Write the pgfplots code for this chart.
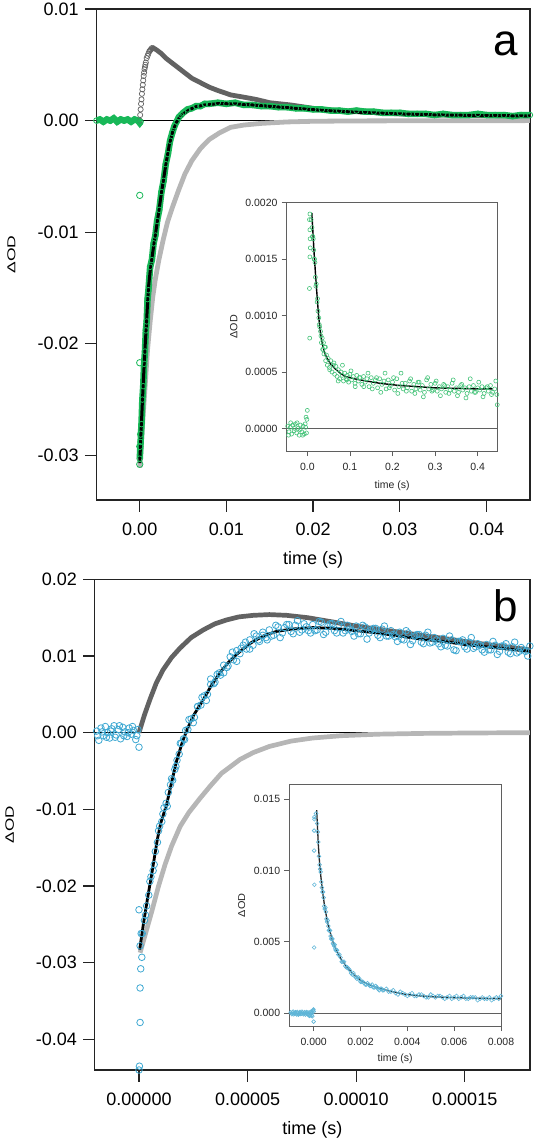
\documentclass[border=0pt]{standalone}
\usepackage{fontspec}
\setmainfont{Liberation Sans}
\usepackage{graphicx}
\usepackage{pgfplots}
\pgfplotsset{compat=1.18}
\definecolor{gA}{RGB}{24,184,88}
\definecolor{gAi}{RGB}{70,196,122}
\definecolor{bB}{RGB}{62,168,210}
\definecolor{bBi}{RGB}{95,182,216}
\definecolor{dg}{RGB}{98,98,98}
\definecolor{lg}{RGB}{182,182,182}
\definecolor{frm}{RGB}{35,35,35}
\definecolor{ifrm}{RGB}{95,95,95}
\pgfplotsset{
  mainax/.style={
    scale only axis, scaled x ticks=false, scaled y ticks=false,
    axis line style={line width=1.3bp, frm},
    tick align=outside, major tick length=11.5bp,
    tick style={line width=1.3bp, frm},
    xtick pos=left, ytick pos=left,
    ticklabel style={font=\fontsize{18bp}{20bp}\selectfont, inner sep=0pt},
    yticklabel style={xshift=-6bp},
    xticklabel style={yshift=-11bp},
    xlabel style={font=\fontsize{18bp}{20bp}\selectfont, at={([yshift=-64.5bp]axis description cs:0.5,0)}, anchor=base},
    ylabel style={at={([xshift=-85bp]axis description cs:0,0.5)}, anchor=center, inner sep=0pt},
  },
  inax/.style={
    scale only axis, scaled x ticks=false, scaled y ticks=false,
    axis background/.style={fill=white},
    axis line style={line width=0.8bp, ifrm},
    tick align=outside, major tick length=5bp,
    tick style={line width=0.8bp, ifrm},
    xtick pos=left, ytick pos=left,
    ticklabel style={font=\fontsize{10.5bp}{12bp}\selectfont, inner sep=0pt, text=black!85},
    yticklabel style={xshift=-4bp},
    xticklabel style={yshift=-7bp},
    xlabel style={font=\fontsize{10.5bp}{12bp}\selectfont, text=black!85, anchor=base},
    ylabel style={text=black!85, anchor=center, inner sep=0pt},
  },
}
\begin{document}
\begin{tikzpicture}
\path[use as bounding box] (0,0) rectangle (536bp,-1141bp);
% ================= Panel a =================
\begin{axis}[mainax, at={(96.4bp,-9bp)}, anchor=north west,
  width=433.5bp, height=491bp,
  xmin=-0.005, xmax=0.045, ymin=-0.034, ymax=0.01,
  xtick={0,0.01,0.02,0.03,0.04}, xticklabels={0.00,0.01,0.02,0.03,0.04},
  ytick={-0.03,-0.02,-0.01,0,0.01}, yticklabels={-0.03,-0.02,-0.01,0.00,0.01},
  xlabel={time (s)}, ylabel={\resizebox{38bp}{8bp}{ΔOD}}]
\addplot[black, line width=1bp] coordinates {(-0.005,0) (0.045,0)};
% dark grey component: rise (circles)
\addplot[dg, only marks, mark=o, mark size=2.6bp, mark options={line width=0.7bp}] coordinates {
(0.00000,0.0000) (0.00005,0.0005) (0.00010,0.0010) (0.00015,0.0015) (0.00020,0.0019)
(0.00025,0.0024) (0.00030,0.0028) (0.00035,0.0032) (0.00040,0.0036) (0.00045,0.0040)
(0.00050,0.0043) (0.00055,0.0046) (0.00060,0.0048) (0.00065,0.0050) (0.00070,0.0052)
(0.00080,0.0056) (0.00090,0.0058) (0.00100,0.0060) (0.00110,0.0062) (0.00120,0.0063)
(0.00130,0.0064) (0.00140,0.0065)};
% dark grey component: decay
\addplot[dg, line width=4.8bp] coordinates {
(0.0012,0.0063) (0.0014,0.0064) (0.0016,0.0065) (0.0018,0.0064) (0.0020,0.0063)
(0.0025,0.0060) (0.0030,0.0056) (0.0035,0.0053) (0.0040,0.0050) (0.0045,0.0047)
(0.0050,0.0044) (0.0055,0.0041) (0.0060,0.0038) (0.0070,0.0034) (0.0080,0.0030)
(0.0090,0.0027) (0.0105,0.0023) (0.0120,0.0021) (0.0134,0.0019) (0.0150,0.0016)
(0.0174,0.0014) (0.0200,0.0011) (0.0213,0.00096) (0.0250,0.0008) (0.0300,0.0006)
(0.0350,0.0005) (0.0400,0.00045) (0.0450,0.0004)};
% light grey component
\addplot[lg, line width=4.8bp] coordinates {
(0.0000,-0.0311) (0.0003,-0.0275) (0.0006,-0.0240) (0.0009,-0.0205) (0.0012,-0.0180)
(0.0015,-0.0158) (0.0018,-0.0142) (0.0022,-0.0125) (0.0027,-0.0107) (0.0032,-0.0091)
(0.0038,-0.0077) (0.0045,-0.0062) (0.0052,-0.0048) (0.0060,-0.0036) (0.0070,-0.0025)
(0.0080,-0.0017) (0.0092,-0.0011) (0.0105,-0.0006) (0.0120,-0.0004) (0.0140,-0.00025)
(0.0170,-0.00012) (0.0200,-0.00006) (0.0250,-0.00003) (0.0300,-0.00002) (0.0450,0.0000)};
% green data: baseline
\addplot[gA, line width=6.5bp, mark=o, mark size=2.8bp, mark options={line width=0.8bp}] coordinates {
(-0.0050,0.0000) (-0.0046,0.0001) (-0.0042,-0.0001) (-0.0038,0.0001) (-0.0034,0.0000)
(-0.0030,0.0002) (-0.0026,-0.0001) (-0.0022,0.0001) (-0.0018,0.0000) (-0.0014,0.0001)
(-0.0010,-0.0001) (-0.0006,0.0001) (-0.0002,0.0000) (0.0000,-0.0002) (0.0001,-0.0001)};
% green data: after the flash
\addplot[gA, line width=6.5bp, mark=o, mark size=2.8bp, mark options={line width=0.8bp}] coordinates {
(0.00000,-0.0303) (0.00010,-0.0288) (0.00020,-0.0272) (0.00030,-0.0250) (0.00040,-0.0238)
(0.00050,-0.0218) (0.00060,-0.0207) (0.00070,-0.0188) (0.00080,-0.0180) (0.00090,-0.0160)
(0.00100,-0.0152) (0.00120,-0.0131) (0.00140,-0.0125) (0.00160,-0.0110) (0.00180,-0.0103)
(0.00200,-0.0090) (0.00225,-0.0080) (0.00250,-0.0064) (0.00275,-0.0054) (0.00300,-0.0039)
(0.00325,-0.0030) (0.00350,-0.0018) (0.00375,-0.0011) (0.00400,-0.0005) (0.00425,-0.0001)
(0.00450,0.0003) (0.00475,0.0005) (0.00500,0.0007) (0.0055,0.0010) (0.0060,0.0011)
(0.0065,0.0013) (0.0070,0.0013) (0.0075,0.0015) (0.0080,0.0015) (0.0090,0.0016)
(0.0100,0.0015) (0.0110,0.0016) (0.0120,0.0014) (0.0130,0.0014) (0.0140,0.0013)
(0.0150,0.0013) (0.0160,0.0012) (0.0170,0.0012) (0.0180,0.0011) (0.0190,0.0011)
(0.0200,0.0010) (0.0210,0.0010) (0.0220,0.0009) (0.0230,0.0009) (0.0240,0.0008)
(0.0250,0.0009) (0.0260,0.0008) (0.0270,0.0008) (0.0280,0.0007) (0.0290,0.0007)
(0.0300,0.0007) (0.0310,0.0006) (0.0320,0.0006) (0.0330,0.0006) (0.0340,0.0005)
(0.0350,0.0006) (0.0360,0.0005) (0.0370,0.0005) (0.0380,0.0005) (0.0390,0.0006)
(0.0400,0.0005) (0.0410,0.0005) (0.0420,0.0005) (0.0430,0.0004) (0.0440,0.0005)
(0.0450,0.0005)};
% green outliers
\addplot[gA, only marks, mark=o, mark size=3.2bp, mark options={line width=0.8bp}] coordinates {
(0.0000,-0.0067) (0.0000,-0.0217) (0.0000,-0.0292) (0.0001,-0.0281) (0.0000,-0.0308)};
% black fit
\addplot[black, line width=3bp] coordinates {
(0.0000,-0.0307) (0.0002,-0.0270) (0.0004,-0.0236) (0.0006,-0.0205) (0.0008,-0.0178)
(0.0010,-0.0150) (0.0012,-0.0135) (0.0015,-0.0118) (0.0020,-0.0092) (0.0025,-0.0065)
(0.0030,-0.0040) (0.0034,-0.0022) (0.0038,-0.0010) (0.0042,-0.0002) (0.0046,0.0003)
(0.0050,0.0006) (0.0058,0.0010) (0.0065,0.00125) (0.0075,0.0014) (0.0090,0.00152)
(0.0110,0.0015) (0.0130,0.0014) (0.0150,0.00128) (0.0180,0.0011) (0.0210,0.00092)
(0.0250,0.00075) (0.0300,0.0006) (0.0350,0.0005) (0.0400,0.00045) (0.0450,0.00042)};
\node[anchor=base east, inner sep=0pt, font=\fontsize{44bp}{44bp}\selectfont] at (rel axis cs:0.9725,0.906) {a};
\end{axis}
% ---------------- inset a ----------------
\begin{axis}[inax, at={(286.7bp,-202.7bp)}, anchor=north west,
  width=211bp, height=248.3bp,
  xmin=-0.0484, xmax=0.447, ymin=-0.0002, ymax=0.002,
  xtick={0,0.1,0.2,0.3,0.4}, xticklabels={0.0,0.1,0.2,0.3,0.4},
  ytick={0,0.0005,0.001,0.0015,0.002}, yticklabels={0.0000,0.0005,0.0010,0.0015,0.0020},
  xlabel={time (s)}, ylabel={\resizebox{23.3bp}{7.3bp}{ΔOD}},
  xlabel style={at={([yshift=-37bp]axis description cs:0.5,0)}},
  ylabel style={at={([xshift=-53bp]axis description cs:0,0.5)}}]
\addplot[ifrm, line width=0.8bp] coordinates {(-0.0484,0) (0.447,0)};
\addplot[gAi, only marks, mark=o, mark size=2bp, mark options={line width=0.6bp}] coordinates {
(-0.046,0.00002) (-0.043,-0.00003) (-0.040,0.00001) (-0.037,-0.00005) (-0.034,0.00003)
(-0.031,-0.00002) (-0.028,0.00004) (-0.025,-0.00004) (-0.022,0.00000) (-0.019,-0.00006)
(-0.016,0.00003) (-0.013,-0.00003) (-0.010,0.00002) (-0.007,-0.00005) (-0.004,0.00001)
(-0.002,-0.00004) (-0.044,-0.00006) (-0.039,0.00005) (-0.030,0.00000) (-0.024,0.00005)
(-0.017,-0.00001) (-0.011,-0.00006) (-0.005,0.00004)
(0.000,0.00016) (-0.003,0.00010) (-0.001,0.00008) (0.0056,0.00080) (0.006,0.00190)
(0.005,0.00185) (0.006,0.00176) (0.0065,0.00168) (0.006,0.00152) (0.005,0.00124) (0.007,0.00160)
(0.009,0.00185) (0.011,0.00178) (0.013,0.00170) (0.015,0.00158) (0.017,0.00150)
(0.019,0.00134) (0.021,0.00128) (0.023,0.00112) (0.025,0.00104) (0.027,0.00098)
(0.029,0.00090) (0.031,0.00086) (0.033,0.00076) (0.035,0.00080) (0.037,0.00070)
(0.039,0.00066) (0.041,0.00072) (0.043,0.00060) (0.045,0.00065) (0.047,0.00056)
(0.049,0.00062) (0.052,0.00054) (0.055,0.00060) (0.058,0.00050) (0.061,0.00056)
(0.064,0.00048) (0.067,0.00055) (0.070,0.00046) (0.073,0.00052) (0.076,0.00044)
(0.079,0.00050) (0.082,0.00047) (0.085,0.00042) (0.088,0.00049) (0.091,0.00044)
(0.094,0.00047) (0.097,0.00041) (0.100,0.00048) (0.104,0.00043) (0.108,0.00046)
(0.112,0.00040) (0.116,0.00047) (0.120,0.00042) (0.124,0.00045) (0.128,0.00039)
(0.132,0.00046) (0.136,0.00041) (0.140,0.00044) (0.145,0.00037) (0.150,0.00045)
(0.155,0.00040) (0.160,0.00043) (0.165,0.00036) (0.170,0.00044) (0.175,0.00039)
(0.180,0.00042) (0.185,0.00035) (0.190,0.00043) (0.195,0.00038) (0.200,0.00041)
(0.205,0.00034) (0.210,0.00044) (0.215,0.00037) (0.220,0.00049) (0.225,0.00035)
(0.230,0.00040) (0.235,0.00036) (0.240,0.00042) (0.245,0.00033) (0.250,0.00039)
(0.255,0.00035) (0.260,0.00041) (0.265,0.00034) (0.270,0.00038) (0.275,0.00032)
(0.280,0.00043) (0.285,0.00035) (0.290,0.00039) (0.295,0.00034) (0.300,0.00040)
(0.305,0.00033) (0.310,0.00037) (0.315,0.00035) (0.320,0.00039) (0.325,0.00032)
(0.330,0.00037) (0.335,0.00034) (0.340,0.00040) (0.345,0.00033) (0.350,0.00036)
(0.355,0.00032) (0.360,0.00038) (0.365,0.00034) (0.370,0.00036) (0.375,0.00031)
(0.380,0.00037) (0.385,0.00033) (0.390,0.00038) (0.395,0.00032) (0.400,0.00036)
(0.405,0.00034) (0.410,0.00037) (0.415,0.00031) (0.420,0.00036) (0.425,0.00033)
(0.430,0.00038) (0.435,0.00032) (0.440,0.00035) (0.445,0.00030) (0.446,0.00021)
(0.012,0.00170) (0.014,0.00168) (0.016,0.00150) (0.018,0.00147) (0.020,0.00126)
(0.024,0.00115) (0.028,0.00092) (0.032,0.00082) (0.036,0.00070) (0.038,0.00076)
(0.0425,0.00072) (0.0525,0.00052) (0.0625,0.00058) (0.0725,0.00042) (0.0825,0.00056)
(0.0925,0.00043) (0.1025,0.00051) (0.1125,0.00037) (0.1225,0.00045) (0.1325,0.00037)
(0.1425,0.00049) (0.1525,0.00035) (0.1625,0.00045) (0.1725,0.00032) (0.1825,0.00049)
(0.1925,0.00036) (0.2025,0.00045) (0.2125,0.00031) (0.2225,0.00040) (0.2325,0.00033)
(0.2425,0.00044) (0.2525,0.00031) (0.2625,0.00041) (0.2725,0.00028) (0.2825,0.00045)
(0.2925,0.00033) (0.3025,0.00042) (0.3125,0.00029) (0.3225,0.00038) (0.3325,0.00031)
(0.3425,0.00043) (0.3525,0.00029) (0.3625,0.00039) (0.3725,0.00027) (0.3825,0.00044)
(0.3925,0.00032) (0.4025,0.00041) (0.4125,0.00028) (0.4225,0.00037) (0.4325,0.00030)
(0.4425,0.00042)};
\addplot[black, line width=1.4bp] coordinates {
(0.0105,0.00191) (0.013,0.00175) (0.016,0.00155) (0.019,0.00138) (0.022,0.00122)
(0.026,0.00102) (0.030,0.00087) (0.035,0.00075) (0.040,0.00068) (0.045,0.00063)
(0.055,0.00057) (0.065,0.00053) (0.077,0.00049) (0.090,0.00046) (0.110,0.00044)
(0.139,0.00042) (0.170,0.00040) (0.217,0.00038) (0.260,0.00037) (0.296,0.00036)
(0.350,0.000355) (0.400,0.00035) (0.435,0.00035)};
\end{axis}
% ================= Panel b =================
\begin{axis}[mainax, at={(94.7bp,-579.3bp)}, anchor=north west,
  width=435.2bp, height=490.7bp,
  xmin=-0.0000204, xmax=0.00018, ymin=-0.044, ymax=0.02,
  xtick={0,0.00005,0.0001,0.00015}, xticklabels={0.00000,0.00005,0.00010,0.00015},
  ytick={-0.04,-0.03,-0.02,-0.01,0,0.01,0.02}, yticklabels={-0.04,-0.03,-0.02,-0.01,0.00,0.01,0.02},
  xlabel={time (s)}, ylabel={\resizebox{37bp}{8.5bp}{ΔOD}}]
\addplot[black, line width=1bp] coordinates {(-0.0000204,0) (0.00018,0)};
\addplot[dg, line width=4.7bp] coordinates {
(0.0000000,0.0000) (0.0000025,0.0023) (0.0000050,0.0043) (0.0000080,0.0065) (0.0000111,0.0082)
(0.0000150,0.0098) (0.0000188,0.0110) (0.0000240,0.0124) (0.0000296,0.0134) (0.0000350,0.0142)
(0.0000403,0.0147) (0.0000460,0.0151) (0.0000526,0.0153) (0.0000600,0.0154) (0.0000680,0.0153)
(0.0000776,0.0150) (0.0000900,0.0144) (0.0001000,0.0139) (0.0001200,0.0131) (0.0001400,0.0123)
(0.0001600,0.0115) (0.0001800,0.0108)};
\addplot[lg, line width=4.7bp] coordinates {
(0.0000005,-0.0287) (0.0000030,-0.0262) (0.0000060,-0.0232) (0.0000090,-0.0200) (0.0000120,-0.0172)
(0.0000150,-0.0148) (0.0000190,-0.0122) (0.0000230,-0.0104) (0.0000280,-0.0086) (0.0000330,-0.0069)
(0.0000380,-0.0053) (0.0000465,-0.0035) (0.0000526,-0.0026) (0.0000600,-0.0018) (0.0000700,-0.0011)
(0.0000800,-0.0007) (0.0000930,-0.0004) (0.0001100,-0.0002) (0.0001300,-0.0001) (0.0001500,-0.00005)
(0.0001800,0.0000)};
\addplot[bB, only marks, mark=o, mark size=3.3bp, mark options={line width=0.8bp}] coordinates {
(-0.0000195,0.0002) (-0.0000185,-0.0010) (-0.0000175,0.0006) (-0.0000165,-0.0004) (-0.0000155,0.0008)
(-0.0000145,0.0000) (-0.0000135,-0.0007) (-0.0000125,0.0005) (-0.0000115,0.0009) (-0.0000105,-0.0003)
(-0.0000095,0.0004) (-0.0000085,-0.0008) (-0.0000075,0.0007) (-0.0000065,0.0001) (-0.0000055,-0.0005)
(-0.0000045,0.0006) (-0.0000035,-0.0002) (-0.0000025,0.0003) (-0.0000015,-0.0009) (-0.0000005,0.0004)
(-0.0000190,-0.0004) (-0.0000170,0.0001) (-0.0000150,-0.0006) (-0.0000130,0.0002) (-0.0000110,-0.0006)
(-0.0000090,0.0009) (-0.0000070,-0.0004) (-0.0000050,0.0000) (-0.0000030,0.0008) (-0.0000010,-0.0004)
(0.0000000,-0.0019)
(0.0000000,-0.0231) (0.0000013,-0.0293) (0.0000008,-0.0308) (0.0000005,-0.0333) (0.0000005,-0.0378)
(0.0000002,-0.0435) (0.0000000,-0.0440)
(0.0000005,-0.0278) (0.0000015,-0.0262) (0.0000025,-0.0245) (0.0000035,-0.0226) (0.0000045,-0.0212)
(0.0000055,-0.0188) (0.0000065,-0.0180) (0.0000075,-0.0155) (0.0000085,-0.0143) (0.0000095,-0.0122)
(0.0000105,-0.0116) (0.0000115,-0.0098) (0.0000125,-0.0092) (0.0000135,-0.0078) (0.0000145,-0.0068)
(0.0000155,-0.0062) (0.0000165,-0.0048) (0.0000175,-0.0036) (0.0000185,-0.0028) (0.0000195,-0.0014)
(0.0000205,-0.0008) (0.0000215,0.0003) (0.0000225,0.0004) (0.0000240,0.0018) (0.0000255,0.0020)
(0.0000270,0.0034) (0.0000285,0.0036) (0.0000300,0.0048) (0.0000315,0.0050) (0.0000330,0.0063)
(0.0000345,0.0064) (0.0000360,0.0076) (0.0000375,0.0075) (0.0000390,0.0088) (0.0000405,0.0085)
(0.0000420,0.0099) (0.0000435,0.0095) (0.0000450,0.0107) (0.0000465,0.0103) (0.0000480,0.0114)
(0.0000495,0.0109) (0.0000510,0.0121) (0.0000525,0.0114) (0.0000540,0.0126) (0.0000555,0.0119)
(0.0000570,0.0131) (0.0000585,0.0124) (0.0000600,0.0134) (0.0000620,0.0127) (0.0000640,0.0138)
(0.0000660,0.0130) (0.0000680,0.0141) (0.0000700,0.0132) (0.0000720,0.0140) (0.0000740,0.0131)
(0.0000760,0.0142) (0.0000780,0.0133) (0.0000800,0.0141) (0.0000820,0.0134) (0.0000840,0.0144)
(0.0000860,0.0131) (0.0000880,0.0142) (0.0000900,0.0133) (0.0000920,0.0141) (0.0000940,0.0130)
(0.0000960,0.0140) (0.0000980,0.0132) (0.0001000,0.0139) (0.0001020,0.0129) (0.0001040,0.0138)
(0.0001060,0.0130) (0.0001080,0.0136) (0.0001100,0.0127) (0.0001120,0.0135) (0.0001140,0.0126)
(0.0001160,0.0133) (0.0001180,0.0125) (0.0001200,0.0131) (0.0001220,0.0121) (0.0001240,0.0130)
(0.0001260,0.0120) (0.0001280,0.0128) (0.0001300,0.0118) (0.0001320,0.0127) (0.0001340,0.0117)
(0.0001360,0.0124) (0.0001380,0.0116) (0.0001400,0.0123) (0.0001420,0.0113) (0.0001440,0.0121)
(0.0001460,0.0107) (0.0001480,0.0119) (0.0001500,0.0112) (0.0001520,0.0118) (0.0001540,0.0110)
(0.0001560,0.0116) (0.0001580,0.0108) (0.0001600,0.0115) (0.0001620,0.0108) (0.0001640,0.0114)
(0.0001660,0.0106) (0.0001680,0.0113) (0.0001700,0.0105) (0.0001720,0.0112) (0.0001740,0.0104)
(0.0001760,0.0111) (0.0001780,0.0106) (0.0001800,0.0113)
(0.0000010,-0.0262) (0.0000030,-0.0238) (0.0000050,-0.0194) (0.0000070,-0.0172) (0.0000090,-0.0128)
(0.0000110,-0.0106) (0.0000130,-0.0096) (0.0000150,-0.0060) (0.0000170,-0.0044) (0.0000190,-0.0014)
(0.0000210,-0.0009) (0.0000230,0.0017) (0.0000250,0.0013) (0.0000270,0.0034) (0.0000290,0.0046)
(0.0000310,0.0042) (0.0000330,0.0070) (0.0000350,0.0066) (0.0000370,0.0078) (0.0000390,0.0078)
(0.0000410,0.0087) (0.0000430,0.0105) (0.0000450,0.0093) (0.0000470,0.0110) (0.0000490,0.0118)
(0.0000510,0.0109) (0.0000530,0.0129) (0.0000550,0.0121) (0.0000570,0.0127) (0.0000590,0.0121)
(0.0000610,0.0126) (0.0000630,0.0140) (0.0000650,0.0124) (0.0000670,0.0137) (0.0000690,0.0141)
(0.0000710,0.0129) (0.0000730,0.0146) (0.0000750,0.0134) (0.0000770,0.0138) (0.0000790,0.0130)
(0.0000810,0.0133) (0.0000830,0.0145) (0.0000850,0.0128) (0.0000870,0.0139) (0.0000890,0.0142)
(0.0000910,0.0130) (0.0000930,0.0145) (0.0000950,0.0133) (0.0000970,0.0135) (0.0000990,0.0126)
(0.0001010,0.0129) (0.0001030,0.0140) (0.0001050,0.0122) (0.0001070,0.0134) (0.0001090,0.0136)
(0.0001110,0.0124) (0.0001130,0.0139) (0.0001150,0.0126) (0.0001170,0.0128) (0.0001190,0.0119)
(0.0001210,0.0122) (0.0001230,0.0133) (0.0001250,0.0115) (0.0001270,0.0126) (0.0001290,0.0128)
(0.0001310,0.0116) (0.0001330,0.0131) (0.0001350,0.0118) (0.0001370,0.0121) (0.0001390,0.0112)
(0.0001410,0.0114) (0.0001430,0.0126) (0.0001450,0.0108) (0.0001470,0.0119) (0.0001490,0.0121)
(0.0001510,0.0109) (0.0001530,0.0124) (0.0001550,0.0112) (0.0001570,0.0114) (0.0001590,0.0105)
(0.0001610,0.0108) (0.0001630,0.0119) (0.0001650,0.0102) (0.0001670,0.0113) (0.0001690,0.0116)
(0.0001710,0.0103) (0.0001730,0.0118) (0.0001750,0.0106) (0.0001770,0.0108) (0.0001790,0.0100)};
\addplot[black, line width=2.8bp] coordinates {
(0.0000003,-0.0283) (0.0000020,-0.0250) (0.0000040,-0.0215) (0.0000060,-0.0182) (0.0000084,-0.0140)
(0.0000100,-0.0118) (0.0000127,-0.0094) (0.0000150,-0.0065) (0.0000173,-0.0037) (0.0000200,-0.0012)
(0.0000220,0.0003) (0.0000250,0.0022) (0.0000296,0.0043) (0.0000330,0.0060) (0.0000372,0.0078)
(0.0000410,0.0091) (0.0000449,0.0102) (0.0000500,0.0114) (0.0000526,0.0119) (0.0000580,0.0127)
(0.0000633,0.0132) (0.0000700,0.0135) (0.0000800,0.0137) (0.0000900,0.0136) (0.0001000,0.0133)
(0.0001100,0.0130) (0.0001200,0.0126) (0.0001300,0.0122) (0.0001400,0.0119) (0.0001500,0.0115)
(0.0001600,0.0112) (0.0001700,0.0109) (0.0001800,0.0106)};
\node[anchor=base east, inner sep=0pt, font=\fontsize{44bp}{44bp}\selectfont] at (rel axis cs:0.973,0.9136) {b};
\end{axis}
% ---------------- inset b ----------------
\begin{axis}[inax, at={(289.3bp,-784.3bp)}, anchor=north west,
  width=211.7bp, height=241.7bp,
  xmin=-0.00104, xmax=0.008, ymin=-0.00091, ymax=0.01605,
  xtick={0,0.002,0.004,0.006,0.008}, xticklabels={0.000,0.002,0.004,0.006,0.008},
  ytick={0,0.005,0.01,0.015}, yticklabels={0.000,0.005,0.010,0.015},
  xlabel={time (s)}, ylabel={\resizebox{23.7bp}{7bp}{ΔOD}},
  xlabel style={at={([yshift=-35bp]axis description cs:0.5,0)}},
  ylabel style={at={([xshift=-47.6bp]axis description cs:0,0.5)}}]
\addplot[ifrm, line width=0.8bp] coordinates {(-0.00104,0) (0.008,0)};
\addplot[bBi, only marks, mark=o, mark size=1.9bp, mark options={line width=0.6bp}] coordinates {
(-0.00098,0.00005) (-0.00093,-0.00008) (-0.00088,0.00010) (-0.00083,-0.00003) (-0.00078,0.00006)
(-0.00073,-0.00010) (-0.00068,0.00002) (-0.00063,-0.00006) (-0.00058,0.00008) (-0.00053,-0.00004)
(-0.00048,0.00003) (-0.00043,-0.00009) (-0.00038,0.00006) (-0.00033,-0.00002) (-0.00028,0.00004)
(-0.00023,-0.00012) (-0.00018,-0.00020) (-0.00013,0.00008) (-0.00008,-0.00015) (-0.00004,0.00015)
(-0.00002,0.00020) (0.00000,0.00010)
(-0.00095,-0.00002) (-0.00090,0.00004) (-0.00085,-0.00009) (-0.00080,0.00001) (-0.00075,-0.00005)
(-0.00070,0.00008) (-0.00065,-0.00011) (-0.00060,0.00000) (-0.00055,-0.00007) (-0.00050,0.00009)
(-0.00045,-0.00003) (-0.00040,0.00002) (-0.00035,-0.00010) (-0.00030,0.00007) (-0.00025,-0.00006)
(-0.00020,0.00004) (-0.00015,-0.00016) (-0.00010,0.00002) (-0.00006,-0.00022) (-0.00001,0.00025)
(0.00003,0.01375) (0.00003,0.0136) (0.00002,0.0128) (0.00002,0.0114) (0.00003,0.0090)
(0.00002,0.0046) (0.00000,-0.0006)
(0.00010,0.0140) (0.00015,0.0133) (0.00020,0.0120) (0.00025,0.0104) (0.00030,0.0099)
(0.00035,0.0088) (0.00040,0.0085) (0.00045,0.0075) (0.00050,0.0074) (0.00055,0.0066)
(0.00060,0.0065) (0.00065,0.0058) (0.00070,0.0058) (0.00075,0.0052) (0.00080,0.0052)
(0.00085,0.0048) (0.00090,0.0048) (0.00095,0.0044) (0.00100,0.0044) (0.00110,0.0041)
(0.00120,0.0036) (0.00130,0.0036) (0.00140,0.0032) (0.00150,0.0031) (0.00160,0.0028)
(0.00170,0.0028) (0.00180,0.0025) (0.00190,0.0025) (0.00200,0.0022) (0.00210,0.0022)
(0.00220,0.0020) (0.00230,0.0021) (0.00240,0.0019) (0.00250,0.0020) (0.00260,0.0018)
(0.00270,0.0018) (0.00280,0.0016) (0.00290,0.0017) (0.00300,0.0016) (0.00320,0.0015)
(0.00340,0.0016) (0.00360,0.0013) (0.00380,0.0014) (0.00400,0.0012) (0.00420,0.0014)
(0.00440,0.0012) (0.00460,0.0013) (0.00480,0.0011) (0.00500,0.0013) (0.00520,0.0011)
(0.00540,0.0012) (0.00560,0.0010) (0.00580,0.0012) (0.00600,0.0011) (0.00620,0.0010)
(0.00640,0.0012) (0.00660,0.0010) (0.00680,0.0011) (0.00700,0.0009) (0.00720,0.0011)
(0.00740,0.0010) (0.00760,0.0009) (0.00780,0.0011) (0.00800,0.0012)
(0.000175,0.0127) (0.000225,0.0110) (0.000275,0.0101) (0.000325,0.0092) (0.000375,0.0085)
(0.000425,0.0081) (0.000475,0.0073) (0.000525,0.0071) (0.000575,0.0064) (0.000625,0.0061)
(0.000675,0.0058) (0.000725,0.0054) (0.000775,0.0052) (0.000825,0.0049) (0.000875,0.0047)
(0.000925,0.0045) (0.000975,0.0044) (0.00105,0.0041) (0.00115,0.0039) (0.00125,0.0036)
(0.00135,0.0033) (0.00145,0.0032) (0.00155,0.0030) (0.00165,0.0027) (0.00175,0.0026)
(0.00185,0.0024) (0.00195,0.0024) (0.00205,0.0022) (0.00215,0.0021) (0.00225,0.0020)
(0.00235,0.0020) (0.00245,0.0019) (0.00255,0.0018) (0.00265,0.0019) (0.00275,0.0017)
(0.00285,0.0017) (0.00295,0.0016) (0.0031,0.0017) (0.0033,0.0015) (0.0035,0.0014)
(0.0037,0.0015) (0.0039,0.0013) (0.0041,0.0013) (0.0043,0.0012) (0.0045,0.0013)
(0.0047,0.0012) (0.0049,0.0011) (0.0051,0.0012) (0.0053,0.0012) (0.0055,0.0011)
(0.0057,0.0011) (0.0059,0.0010) (0.0061,0.0012) (0.0063,0.0011) (0.0065,0.0010)
(0.0067,0.0011) (0.0069,0.0011) (0.0071,0.0010) (0.0073,0.0010) (0.0075,0.0011)
(0.0077,0.0010) (0.0079,0.0010)};
\addplot[black!85, line width=1.3bp] coordinates {
(0.00013,0.01424) (0.00015,0.0135) (0.0002,0.0118) (0.00025,0.0106) (0.0003,0.0097)
(0.00034,0.0091) (0.0004,0.0083) (0.00045,0.0077) (0.0005,0.0072) (0.00055,0.00675)
(0.0006,0.0063) (0.0007,0.0057) (0.0008,0.0051) (0.0009,0.0047) (0.001,0.0043)
(0.0011,0.0040) (0.0012,0.0037) (0.0013,0.0035) (0.0014,0.00325) (0.0016,0.0029)
(0.0018,0.0026) (0.002,0.0023) (0.00226,0.00208) (0.0025,0.0019) (0.0028,0.00174)
(0.0031,0.0016) (0.0034,0.00149) (0.00368,0.00138) (0.004,0.0013) (0.0045,0.00121)
(0.005,0.00115) (0.0055,0.00111) (0.006,0.00108) (0.0065,0.00106) (0.007,0.00104)
(0.0075,0.00102) (0.008,0.00101)};
\end{axis}
\end{tikzpicture}
\end{document}
